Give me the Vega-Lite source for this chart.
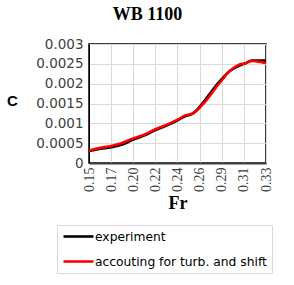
{
  "$schema": "https://vega.github.io/schema/vega-lite/v6.json",
  "width": 177,
  "height": 119,
  "autosize": "none",
  "padding": {"left": 89, "top": 44, "right": 28, "bottom": 122},
  "background": "white",
  "title": {
    "text": "WB 1100",
    "font": "Liberation Serif",
    "fontSize": 18,
    "fontWeight": "bold",
    "color": "black",
    "anchor": "middle",
    "dx": -30,
    "offset": 13
  },
  "data": {
    "values": [
      {"Fr": 0.150, "C": 0.00030, "series": "experiment"},
      {"Fr": 0.159, "C": 0.00035, "series": "experiment"},
      {"Fr": 0.1725, "C": 0.00040, "series": "experiment"},
      {"Fr": 0.183, "C": 0.00046, "series": "experiment"},
      {"Fr": 0.195, "C": 0.00059, "series": "experiment"},
      {"Fr": 0.2066, "C": 0.00070, "series": "experiment"},
      {"Fr": 0.2175, "C": 0.00083, "series": "experiment"},
      {"Fr": 0.2305, "C": 0.00096, "series": "experiment"},
      {"Fr": 0.2405, "C": 0.00108, "series": "experiment"},
      {"Fr": 0.2476, "C": 0.00118, "series": "experiment"},
      {"Fr": 0.2544, "C": 0.00123, "series": "experiment"},
      {"Fr": 0.2595, "C": 0.00133, "series": "experiment"},
      {"Fr": 0.2636, "C": 0.00145, "series": "experiment"},
      {"Fr": 0.2697, "C": 0.00164, "series": "experiment"},
      {"Fr": 0.2748, "C": 0.00181, "series": "experiment"},
      {"Fr": 0.2799, "C": 0.00197, "series": "experiment"},
      {"Fr": 0.2860, "C": 0.00214, "series": "experiment"},
      {"Fr": 0.2917, "C": 0.00229, "series": "experiment"},
      {"Fr": 0.2978, "C": 0.00239, "series": "experiment"},
      {"Fr": 0.3036, "C": 0.00246, "series": "experiment"},
      {"Fr": 0.3086, "C": 0.00251, "series": "experiment"},
      {"Fr": 0.3155, "C": 0.00258, "series": "experiment"},
      {"Fr": 0.3239, "C": 0.00258, "series": "experiment"},
      {"Fr": 0.3300, "C": 0.00258, "series": "experiment"},
      {"Fr": 0.150, "C": 0.00031, "series": "accouting for turb. and shift"},
      {"Fr": 0.159, "C": 0.00037, "series": "accouting for turb. and shift"},
      {"Fr": 0.1725, "C": 0.00043, "series": "accouting for turb. and shift"},
      {"Fr": 0.183, "C": 0.00050, "series": "accouting for turb. and shift"},
      {"Fr": 0.195, "C": 0.00062, "series": "accouting for turb. and shift"},
      {"Fr": 0.2066, "C": 0.00072, "series": "accouting for turb. and shift"},
      {"Fr": 0.2175, "C": 0.00085, "series": "accouting for turb. and shift"},
      {"Fr": 0.2305, "C": 0.00098, "series": "accouting for turb. and shift"},
      {"Fr": 0.2405, "C": 0.00110, "series": "accouting for turb. and shift"},
      {"Fr": 0.2476, "C": 0.00120, "series": "accouting for turb. and shift"},
      {"Fr": 0.2544, "C": 0.00124, "series": "accouting for turb. and shift"},
      {"Fr": 0.2595, "C": 0.00132, "series": "accouting for turb. and shift"},
      {"Fr": 0.2636, "C": 0.00142, "series": "accouting for turb. and shift"},
      {"Fr": 0.2697, "C": 0.00159, "series": "accouting for turb. and shift"},
      {"Fr": 0.2748, "C": 0.00176, "series": "accouting for turb. and shift"},
      {"Fr": 0.2799, "C": 0.00193, "series": "accouting for turb. and shift"},
      {"Fr": 0.2860, "C": 0.00211, "series": "accouting for turb. and shift"},
      {"Fr": 0.2917, "C": 0.00229, "series": "accouting for turb. and shift"},
      {"Fr": 0.2978, "C": 0.00241, "series": "accouting for turb. and shift"},
      {"Fr": 0.3036, "C": 0.00249, "series": "accouting for turb. and shift"},
      {"Fr": 0.3086, "C": 0.00251, "series": "accouting for turb. and shift"},
      {"Fr": 0.3155, "C": 0.00257, "series": "accouting for turb. and shift"},
      {"Fr": 0.3239, "C": 0.00255, "series": "accouting for turb. and shift"},
      {"Fr": 0.3300, "C": 0.00252, "series": "accouting for turb. and shift"}
    ]
  },
  "mark": {"type": "line", "strokeWidth": 2.6, "interpolate": "monotone"},
  "encoding": {
    "x": {
      "field": "Fr",
      "type": "quantitative",
      "scale": {"domain": [0.15, 0.33], "nice": false, "zero": false},
      "axis": {
        "values": [0.15, 0.1725, 0.195, 0.2175, 0.24, 0.2625, 0.285, 0.3075, 0.33],
        "labelExpr": "format(datum.value + 0.0001, '.2f')",
        "labelAngle": -90,
        "labelAlign": "right",
        "labelBaseline": "middle",
        "labelFont": "Liberation Serif",
        "labelFontSize": 14,
        "labelColor": "#404040",
        "labelPadding": 4,
        "ticks": false,
        "domainColor": "#404040",
        "domainWidth": 2,
        "gridColor": "#d9d9d9",
        "title": "Fr",
        "titleFont": "Liberation Serif",
        "titleFontSize": 18,
        "titleFontWeight": "bold",
        "titleColor": "black",
        "titlePadding": 3
      }
    },
    "y": {
      "field": "C",
      "type": "quantitative",
      "scale": {"domain": [0, 0.003], "nice": false},
      "axis": {
        "values": [0, 0.0005, 0.001, 0.0015, 0.002, 0.0025, 0.003],
        "format": ".4~f",
        "labelFont": "DejaVu Sans",
        "labelFontSize": 13.5,
        "labelColor": "#404040",
        "labelPadding": 6,
        "ticks": false,
        "domainColor": "black",
        "gridColor": "#d9d9d9",
        "title": "C",
        "titleAngle": 0,
        "titleFont": "Liberation Sans",
        "titleFontSize": 15,
        "titleFontWeight": "bold",
        "titleColor": "black",
        "titleAlign": "center",
        "titleBaseline": "middle",
        "titleX": -77,
        "titleY": 56
      }
    },
    "color": {
      "field": "series",
      "type": "nominal",
      "scale": {
        "domain": ["experiment", "accouting for turb. and shift"],
        "range": ["#000000", "#ff0000"]
      },
      "legend": {
        "title": null,
        "orient": "none",
        "legendX": -32,
        "legendY": 181,
        "direction": "vertical",
        "symbolType": "M-1,0H5",
        "symbolSize": 100,
        "symbolStrokeWidth": 2.6,
        "labelFont": "DejaVu Sans",
        "labelFontSize": 12.3,
        "labelLimit": 400,
        "labelColor": "black",
        "labelOffset": 20,
        "rowPadding": 12,
        "padding": 5,
        "strokeColor": "#d9d9d9",
        "fillColor": "white"
      }
    }
  },
  "config": {
    "view": {"stroke": "black", "strokeWidth": 1.5}
  }
}
